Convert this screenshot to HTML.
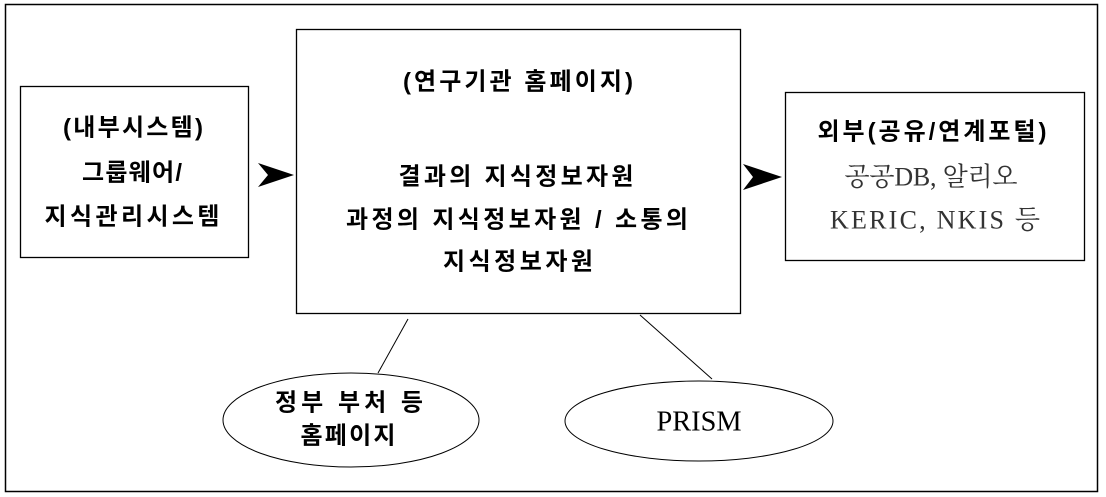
<!DOCTYPE html>
<html><head><meta charset="utf-8"><style>
html,body{margin:0;padding:0;background:#fff;width:1106px;height:497px;overflow:hidden}
svg{display:block}
.b{font-family:"Liberation Sans","Noto Sans CJK KR",sans-serif;font-weight:bold;font-size:24px;fill:#000}
.s{font-family:"Liberation Serif","Noto Serif CJK SC",serif;font-size:26px;fill:#333}
</style></head><body>
<svg width="1106" height="497" viewBox="0 0 1106 497" xmlns="http://www.w3.org/2000/svg">
<rect x="5.5" y="4.5" width="1092" height="487" fill="none" stroke="#000" stroke-width="1.5"/>
<rect x="20.5" y="86.5" width="228" height="171" fill="#fff" stroke="#000" stroke-width="1.3"/>
<rect x="296.5" y="29.5" width="444" height="284" fill="#fff" stroke="#000" stroke-width="1.3"/>
<rect x="785.5" y="92.5" width="299" height="168" fill="#fff" stroke="#000" stroke-width="1.3"/>
<path d="M258,163 L294,175 L258,187 L268,175 Z" fill="#000"/>
<path d="M743,164 L782,177 L743,190 L753,177 Z" fill="#000"/>
<line x1="408" y1="319" x2="378" y2="373" stroke="#000" stroke-width="1"/>
<line x1="640" y1="315" x2="712" y2="379" stroke="#000" stroke-width="1"/>
<ellipse cx="351" cy="420" rx="128" ry="47" fill="#fff" stroke="#000" stroke-width="1"/>
<ellipse cx="699" cy="421" rx="134" ry="40" fill="#fff" stroke="#000" stroke-width="1"/>
<g text-anchor="middle" dominant-baseline="central">
<text class="b" x="133" y="128" textLength="140" lengthAdjust="spacing">(내부시스템)</text>
<text class="b" x="132" y="173" textLength="100" lengthAdjust="spacing">그룹웨어/</text>
<text class="b" x="132" y="217" textLength="175" lengthAdjust="spacing">지식관리시스템</text>
<text class="b" x="518" y="82" textLength="230" lengthAdjust="spacing">(연구기관 홈페이지)</text>
<text class="b" x="516" y="177" textLength="235" lengthAdjust="spacing">결과의 지식정보자원</text>
<text class="b" x="517" y="220" textLength="342" lengthAdjust="spacing">과정의 지식정보자원 / 소통의</text>
<text class="b" x="518" y="262" textLength="150" lengthAdjust="spacing">지식정보자원</text>
<text class="b" x="932" y="132" textLength="229" lengthAdjust="spacing">외부(공유/연계포털)</text>
<text class="s" x="931" y="177" textLength="173" lengthAdjust="spacing">공공DB, 알리오</text>
<text class="s" x="935" y="220" textLength="210" lengthAdjust="spacing">KERIC, NKIS 등</text>
<text class="b" x="349" y="403" textLength="148" lengthAdjust="spacing">정부 부처 등</text>
<text class="b" x="348" y="436" textLength="95" lengthAdjust="spacing">홈페이지</text>
<text class="s" x="699" y="422" textLength="85" lengthAdjust="spacingAndGlyphs" style="fill:#000;font-size:28px">PRISM</text>
</g>
</svg>
</body></html>
